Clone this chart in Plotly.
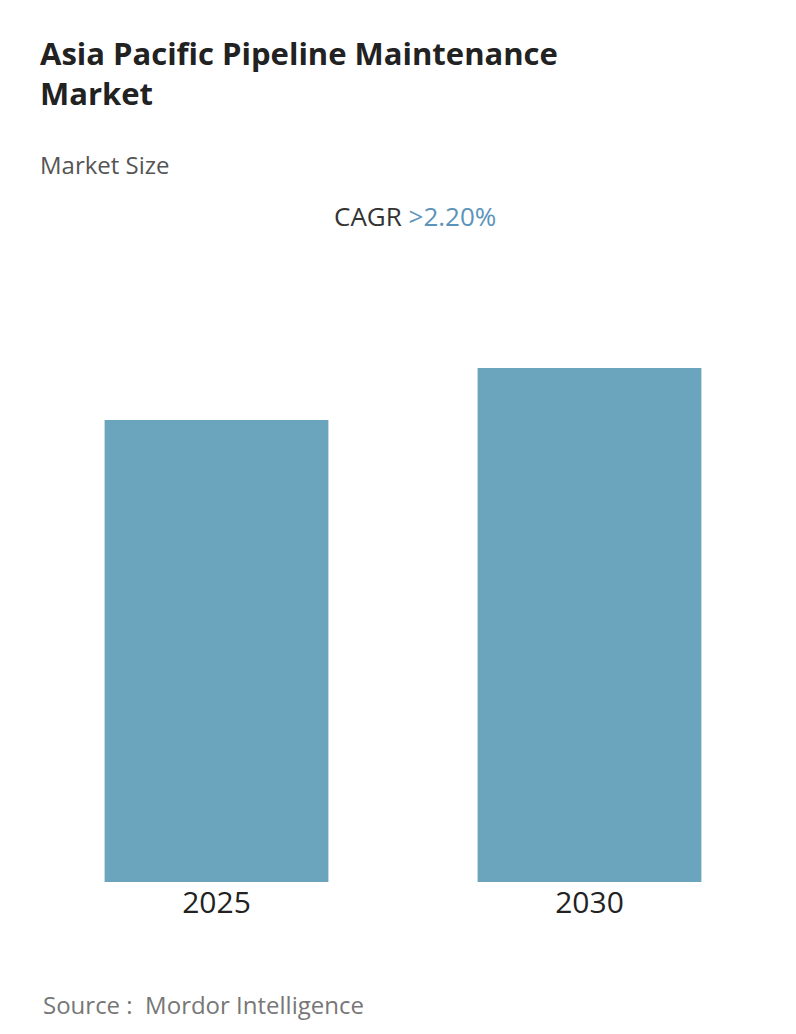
import plotly.graph_objects as go

years = ["2025", "2030"]
values = [4.62, 5.14]

T, B, L, R = 250, 160, 22, 28
PH = 1034 - T - B
PW = 796 - L - R
def px(x): return (x - L) / PW
def py(y): return (1034 - B - y) / PH

fig = go.Figure(go.Bar(x=years, y=values, marker=dict(color="#6aa4bd", line=dict(width=0)), hoverinfo="skip"))
fig.update_layout(
    width=796, height=1034, paper_bgcolor="white", plot_bgcolor="white",
    margin=dict(l=L, r=R, t=T, b=B, autoexpand=False), bargap=0.40, showlegend=False,
    font=dict(family="Open Sans, sans-serif", color="#333"),
    xaxis=dict(showline=False, showgrid=False, ticks="", tickfont=dict(size=30, color="#222")),
    yaxis=dict(visible=False, range=[0, 6.24]),
    annotations=[
        dict(text="<b>Asia Pacific Pipeline Maintenance<br>Market</b>", x=px(30), y=py(22), xref="paper", yref="paper",
             xanchor="left", yanchor="top", align="left", showarrow=False, font=dict(size=31, color="#222")),
        dict(text="Market Size", x=px(30), y=py(138), xref="paper", yref="paper", xanchor="left", yanchor="top",
             showarrow=False, font=dict(size=24, color="#555")),
        dict(text="CAGR <span style='color:#5b93bb'>>2.20%</span>", x=px(407), y=py(188), xref="paper", yref="paper",
             xanchor="center", yanchor="top", showarrow=False, font=dict(size=26, color="#333")),
        dict(text="Source :  Mordor Intelligence", x=px(33), y=py(978), xref="paper", yref="paper", xanchor="left",
             yanchor="top", showarrow=False, font=dict(size=24, color="#777")),
    ],
)
fig.write_html("out.html")
